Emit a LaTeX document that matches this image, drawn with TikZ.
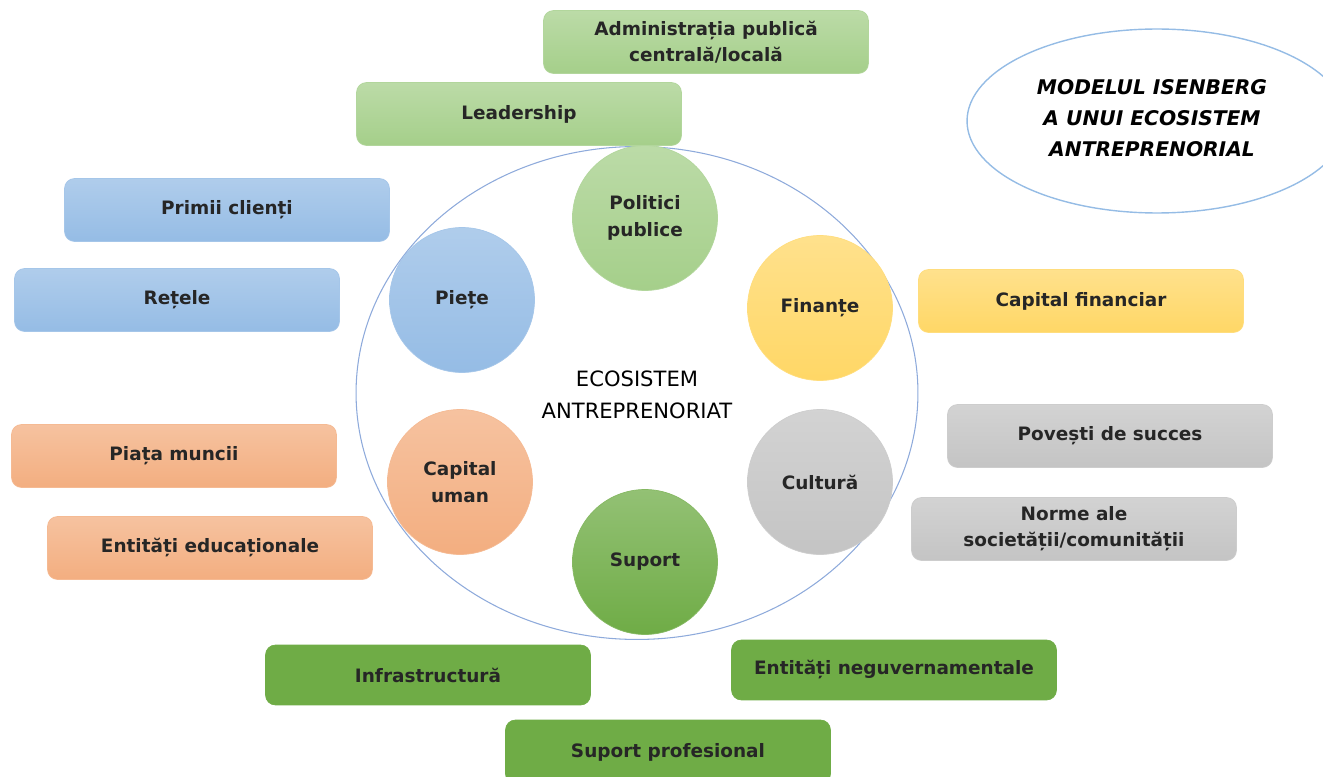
\documentclass[tikz,border=0pt]{standalone}
\usepackage{fontspec}
\setmainfont{DejaVu Sans}
\usetikzlibrary{positioning, shapes.geometric}
\definecolor{lgreen}{HTML}{A5CF8A}
\definecolor{dgreen}{HTML}{6FAC46}
\definecolor{lblue}{HTML}{95BCE5}
\definecolor{lyellow}{HTML}{FFD766}
\definecolor{lgray}{HTML}{C4C4C4}
\definecolor{lsalmon}{HTML}{F3AE80}
\definecolor{rimblue}{HTML}{8EAADB}
\tikzset{
  factor/.style={rectangle, rounded corners=0.2cm, minimum width=6.5cm, minimum height=1.26cm, align=center, font=\fontsize{10.5}{15}\selectfont\bfseries, text=black!85},
  pillar/.style={circle, minimum size=2.9cm, align=center, font=\fontsize{10.5}{15}\selectfont\bfseries, text=black!85},
  tint/.style={top color=#1!75!white, bottom color=#1, draw=#1!85!white},
}

\begin{document}
\begin{tikzpicture}[x=0.02cm, y=-0.02cm]
  \useasboundingbox (0,0) rectangle (1323,777);

  % ecosystem ring and title
  \node[ellipse, draw=rimblue, line width=0.6pt, minimum width=11.24cm, minimum height=9.86cm] (eco) at (637,393) {};
  \node[align=center, font=\fontsize{12}{18}\selectfont] (ecotext) at (637,395) {ECOSISTEM\\ANTREPRENORIAT};
  \node[ellipse, draw=lblue, line width=0.8pt, minimum width=7.6cm, minimum height=3.68cm] (titlering) at (1157,121) {};
  \node[align=center, font=\fontsize{11.5}{17.5}\selectfont\bfseries\itshape] (title) at (1152,118) {MODELUL ISENBERG\\A UNUI ECOSISTEM\\ANTREPRENORIAL};

  % six domains
  \node[pillar, tint=lgreen] (politici) at (645,218) {Politici\\publice};
  \node[pillar, tint=lblue] (piete) at (462,300) {Piețe};
  \node[pillar, tint=lyellow] (finante) at (820,308) {Finanțe};
  \node[pillar, tint=lsalmon] (uman) at (460,482) {Capital\\uman};
  \node[pillar, tint=lgray] (cultura) at (820,482) {Cultură};
  \node[pillar, tint=dgreen] (suport) at (645,562) {Suport};

  % factors
  \node[factor, tint=lgreen] (admin) at (706,42) {Administrația publică\\centrală/locală};
  \node[factor, tint=lgreen] (leader) at (519,114) {Leadership};
  \node[factor, tint=lblue] (clienti) at (227,210) {Primii clienți};
  \node[factor, tint=lblue] (retele) at (177,300) {Rețele};
  \node[factor, tint=lyellow] (capfin) at (1081,301) {Capital financiar};
  \node[factor, tint=lgray] (povesti) at (1110,436) {Povești de succes};
  \node[factor, tint=lgray] (norme) at (1074,529) {Norme ale\\societății/comunității};
  \node[factor, tint=lsalmon] (muncii) at (174,456) {Piața muncii};
  \node[factor, tint=lsalmon] (educ) at (210,548) {Entități educaționale};
  \node[factor, fill=dgreen, draw=dgreen, minimum height=1.2cm] (infra) at (428,675) {Infrastructură};
  \node[factor, fill=dgreen, draw=dgreen, minimum height=1.2cm] (ong) at (894,670) {Entități neguvernamentale};
  \node[factor, fill=dgreen, draw=dgreen, minimum height=1.28cm] (profes) at (668,752) {Suport profesional};
\end{tikzpicture}
\end{document}
